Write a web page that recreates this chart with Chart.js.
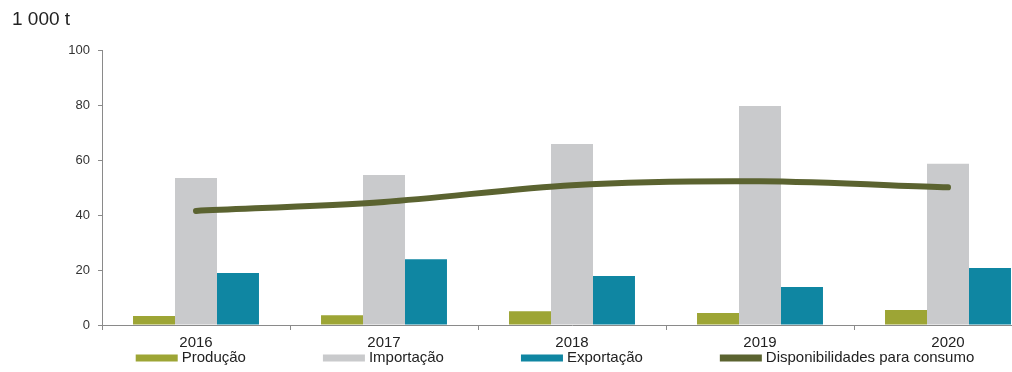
<!DOCTYPE html>
<html>
<head>
<meta charset="utf-8">
<script src="https://cdn.jsdelivr.net/npm/chart.js@4"></script>
<style>
  html, body { margin: 0; padding: 0; background: #fff; overflow: hidden; }
  /* plot runs past the right edge of the page, last group is cut */
  #wrap { width: 1042px; height: 372px; }
</style>
</head>
<body>
<div id="wrap"><canvas id="bar-chart"></canvas></div>
<script>
var years = ["2016", "2017", "2018", "2019", "2020"];
var producao = [3.3, 3.6, 5.0, 4.4, 5.5];
var importacao = [53.6, 54.7, 66, 79.9, 58.8];
var exportacao = [19, 24, 17.9, 13.9, 20.8];
var disponibilidades = [41.6, 44.9, 51, 52.4, 50.2];
var yTicks = [0, 20, 40, 60, 80, 100];

// Legend drawn by hand: the built-in one pads vertically as much as horizontally
var bottomLegend = {
  id: "bottomLegend",
  afterDraw: function (chart) {
    var ctx = chart.ctx;
    var area = chart.chartArea;
    var order = [1, 2, 3, 0];
    var boxW = 42, boxH = 7, textGap = 4, itemGap = 77;
    ctx.save();
    ctx.font = "15px 'Liberation Sans', Arial, sans-serif";
    var items = order.map(function (i) {
      var ds = chart.data.datasets[i];
      var w = boxW + textGap + ctx.measureText(ds.label).width;
      return { label: ds.label, color: ds.backgroundColor, width: w };
    });
    var total = items.reduce(function (s, it) { return s + it.width; }, 0) + itemGap * (items.length - 1);
    var x = area.left + 453 - total / 2;
    var y = 358;
    ctx.textBaseline = "middle";
    ctx.textAlign = "left";
    items.forEach(function (it) {
      ctx.fillStyle = it.color;
      ctx.fillRect(x, y - boxH / 2, boxW, boxH);
      ctx.fillStyle = "#222";
      ctx.fillText(it.label, x + boxW + textGap, y);
      x += it.width + itemGap;
    });
    ctx.restore();
  },
};

document.addEventListener("DOMContentLoaded", function () {
  var ctx = document.getElementById("bar-chart").getContext("2d");
  Chart.defaults.font.family = "'Liberation Sans', Arial, sans-serif";

  new Chart(ctx, {
    type: "bar",
    data: {
      labels: years,
      datasets: [
        {
          type: "line",
          label: "Disponibilidades para consumo",
          data: disponibilidades,
          borderColor: "#5b6330",
          backgroundColor: "#5b6330",
          borderWidth: 6,
          borderCapStyle: "round",
          pointRadius: 0,
          tension: 0.3,
          order: 0,
        },
        {
          label: "Produção",
          data: producao,
          backgroundColor: "#9da535",
          order: 1,
        },
        {
          label: "Importação",
          data: importacao,
          backgroundColor: "#c9cacc",
          order: 1,
        },
        {
          label: "Exportação",
          data: exportacao,
          backgroundColor: "#0f86a2",
          order: 1,
        },
      ],
    },
    plugins: [bottomLegend],
    options: {
      responsive: true,
      maintainAspectRatio: false,
      animation: false,
      layout: { padding: { left: 12, right: 0, top: 6, bottom: 16 } },
      datasets: {
        bar: { barPercentage: 1.0, categoryPercentage: 0.67 },
      },
      plugins: {
        title: {
          display: true,
          text: "1 000 t",
          align: "start",
          color: "#222",
          font: { size: 19, weight: "normal" },
          padding: { top: 2, bottom: 20 },
        },
        legend: { display: false },
        tooltip: { enabled: false },
      },
      scales: {
        x: {
          grid: {
            drawOnChartArea: false,
            color: "#8a8a8a",
            tickLength: 5,
          },
          border: { color: "#8a8a8a", width: 1 },
          ticks: { color: "#222", font: { size: 15 }, padding: 4 },
        },
        y: {
          min: 0,
          max: 100,
          afterFit: function (scale) {
            scale.width = 90;
          },
          afterBuildTicks: function (scale) {
            scale.ticks = yTicks.map(function (v) {
              return { value: v };
            });
          },
          grid: {
            drawOnChartArea: false,
            color: "#8a8a8a",
            tickLength: 4,
          },
          border: { color: "#8a8a8a", width: 1 },
          ticks: { color: "#333", font: { size: 13 }, padding: 8 },
        },
      },
    },
  });
});
</script>
</body>
</html>
